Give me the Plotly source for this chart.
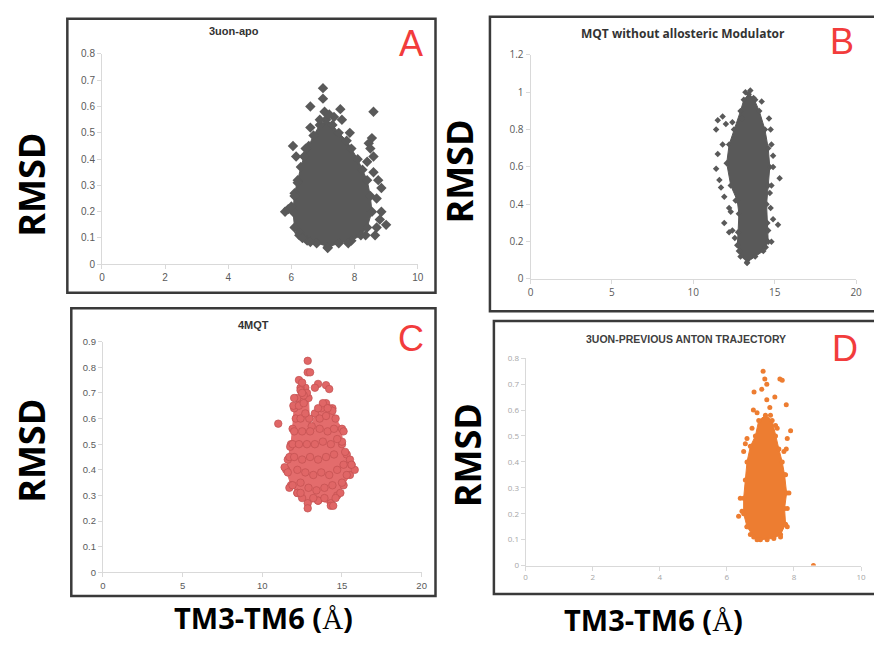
import plotly.graph_objects as go

W, H = 874, 645

# ---------------- DATA ----------------
# Panel A: 3uon-apo  (dense core outline + scattered points)
a_core_x = [7.15, 7.5, 7.9, 8.2, 8.4, 8.55, 8.5, 8.4, 8.25, 8.1, 7.9, 7.75, 7.5, 7.3, 7.1, 6.9, 6.7, 6.55, 6.4, 6.3, 6.2, 6.1, 6.05, 6.1, 6.25, 6.5, 6.8]
a_core_y = [0.065, 0.08, 0.09, 0.11, 0.14, 0.2, 0.26, 0.32, 0.36, 0.4, 0.44, 0.47, 0.5, 0.53, 0.55, 0.53, 0.49, 0.45, 0.41, 0.37, 0.32, 0.27, 0.2, 0.14, 0.11, 0.09, 0.08]
a_pts_x = [5.8, 5.9, 6.0, 6.1, 6.15, 6.05, 6.6, 7.0, 7.0, 7.05, 6.9, 7.55, 7.6, 7.85, 8.6, 8.55, 8.45, 8.5, 8.6, 8.4, 8.6, 8.75, 8.85, 8.7, 8.85, 8.8, 9.0, 8.7, 8.65, 8.35, 6.25, 6.35, 6.6, 7.15, 7.8, 6.45, 6.6, 7.35, 7.2, 6.2]
a_pts_y = [0.2, 0.21, 0.22, 0.26, 0.41, 0.45, 0.6, 0.63, 0.67, 0.58, 0.55, 0.59, 0.55, 0.5, 0.58, 0.48, 0.46, 0.44, 0.41, 0.39, 0.35, 0.32, 0.29, 0.25, 0.2, 0.17, 0.15, 0.14, 0.11, 0.11, 0.12, 0.1, 0.085, 0.062, 0.08, 0.44, 0.52, 0.56, 0.57, 0.31]

# Panel B: MQT without allosteric Modulator
b_core_x = [13.3, 13.8, 14.3, 14.6, 14.55, 14.5, 14.6, 14.7, 14.6, 14.4, 14.05, 13.7, 13.4, 13.1, 12.9, 12.5, 12.2, 12.05, 12.3, 12.7, 12.8, 12.75, 12.7, 12.9]
b_core_y = [0.09, 0.12, 0.15, 0.2, 0.3, 0.4, 0.5, 0.6, 0.7, 0.8, 0.9, 0.97, 0.99, 0.96, 0.9, 0.8, 0.72, 0.62, 0.5, 0.42, 0.35, 0.25, 0.18, 0.12]
b_pts_x = [13.5, 13.2, 13.8, 14.2, 14.65, 14.75, 14.8, 14.9, 14.9, 15.3, 14.8, 14.7, 14.75, 14.9, 15.2, 14.8, 11.4, 11.6, 11.7, 11.5, 11.8, 11.4, 11.5, 11.8, 12.0, 12.4, 11.9, 12.2, 12.3, 11.9, 12.4, 12.2, 12.55, 13.3, 12.8, 14.45, 14.6, 12.6, 13.0]
b_pts_y = [1.01, 1.0, 0.96, 0.95, 0.86, 0.8, 0.72, 0.66, 0.6, 0.54, 0.5, 0.46, 0.38, 0.32, 0.29, 0.2, 0.59, 0.53, 0.49, 0.67, 0.72, 0.8, 0.85, 0.87, 0.83, 0.84, 0.44, 0.38, 0.36, 0.3, 0.26, 0.25, 0.22, 0.085, 0.15, 0.17, 0.26, 0.42, 0.86]

# Panel C: 4MQT
c_core_x = [12.85, 13.5, 14.3, 14.7, 15.1, 15.5, 15.6, 15.3, 15.0, 15.0, 14.6, 14.4, 14.0, 13.7, 13.3, 13.1, 12.95, 12.9, 12.7, 12.4, 12.2, 12.0, 11.9, 11.8, 11.6, 11.5, 11.8, 12.2, 12.5]
c_core_y = [0.27, 0.28, 0.27, 0.3, 0.34, 0.38, 0.42, 0.46, 0.5, 0.56, 0.6, 0.64, 0.66, 0.64, 0.62, 0.57, 0.6, 0.68, 0.72, 0.72, 0.68, 0.64, 0.56, 0.5, 0.44, 0.4, 0.34, 0.31, 0.29]
c_pts_x = [11.0, 12.85, 12.85, 13.0, 12.3, 12.5, 12.4, 13.5, 13.3, 14.0, 14.2, 12.8, 12.6, 13.8, 14.2, 14.4, 15.5, 15.8, 15.6, 14.3, 14.45, 12.85, 11.7, 11.9, 12.2, 12.4, 11.4, 11.6, 11.7, 11.75, 11.9, 12.0, 12.1, 11.95, 12.0, 15.1, 15.0, 15.2, 14.9, 14.6, 13.5, 13.2, 13.9, 15.0, 15.3,
            12.4, 12.9, 13.4, 13.9, 14.4, 12.2, 12.7, 13.2, 13.7, 14.2, 14.7, 15.1, 12.0, 12.5, 13.0, 13.5, 14.0, 14.5, 12.3, 12.8, 13.3, 13.8, 14.3, 14.7, 12.5, 13.0, 13.6, 14.1, 14.5, 12.4, 12.7, 13.6, 14.0, 12.3, 12.6, 13.5, 14.1, 12.5]
c_pts_y = [0.58, 0.825, 0.78, 0.78, 0.75, 0.74, 0.71, 0.735, 0.72, 0.73, 0.715, 0.7, 0.69, 0.66, 0.64, 0.63, 0.44, 0.4, 0.42, 0.26, 0.26, 0.25, 0.33, 0.34, 0.31, 0.31, 0.41, 0.39, 0.45, 0.49, 0.5, 0.55, 0.6, 0.65, 0.68, 0.55, 0.51, 0.47, 0.31, 0.29, 0.28, 0.29, 0.29, 0.35, 0.38,
            0.35, 0.33, 0.32, 0.33, 0.34, 0.4, 0.39, 0.38, 0.39, 0.38, 0.4, 0.42, 0.45, 0.44, 0.45, 0.44, 0.45, 0.46, 0.5, 0.5, 0.5, 0.51, 0.5, 0.52, 0.55, 0.55, 0.56, 0.55, 0.56, 0.6, 0.62, 0.6, 0.61, 0.65, 0.66, 0.64, 0.64, 0.7]

# Panel D: 3UON-PREVIOUS ANTON TRAJECTORY
d_core_x = [7.0, 7.4, 7.6, 7.75, 7.72, 7.78, 7.72, 7.65, 7.55, 7.45, 7.35, 7.15, 6.95, 6.85, 6.7, 6.6, 6.55, 6.5, 6.5, 6.6, 6.8]
d_core_y = [0.1, 0.105, 0.12, 0.16, 0.22, 0.28, 0.35, 0.4, 0.45, 0.5, 0.56, 0.58, 0.56, 0.5, 0.46, 0.4, 0.33, 0.26, 0.2, 0.15, 0.11]
d_pts_x = [7.08, 7.13, 7.19, 7.04, 6.81, 7.43, 7.58, 7.65, 7.77, 6.79, 7.19, 7.28, 7.9, 7.8, 7.77, 7.7, 6.55, 6.5, 6.6, 6.35, 6.45, 6.4, 6.6, 6.7, 6.9, 7.2, 7.6, 7.8, 7.85, 7.8, 7.75, 8.58, 6.9, 7.3, 7.45, 7.5, 6.75]
d_pts_y = [0.75, 0.72, 0.7, 0.68, 0.67, 0.65, 0.72, 0.715, 0.62, 0.6, 0.64, 0.61, 0.52, 0.49, 0.45, 0.44, 0.47, 0.44, 0.49, 0.19, 0.21, 0.26, 0.15, 0.12, 0.1, 0.1, 0.11, 0.15, 0.28, 0.22, 0.35, 0.0, 0.59, 0.58, 0.54, 0.53, 0.53]

titles = ["3uon-apo", "MQT without allosteric Modulator", "4MQT", "3UON-PREVIOUS ANTON TRAJECTORY"]
letters = ["A", "B", "C", "D"]
x_ranges = [[0, 10], [0, 20], [0, 20], [0, 10]]
y_ranges = [[0, 0.8], [0, 1.2], [0, 0.9], [0, 0.8]]
x_dticks = [2, 5, 5, 2]
y_dticks = [0.1, 0.2, 0.1, 0.1]
y_label = "RMSD"
x_label = "TM3-TM6 ("

# ---------------- LAYOUT HELPERS ----------------
def px(x):
    return x / W

def py(y):
    return 1 - y / H

# plot-area boxes in pixels: (left, right, bottom, top)
boxes = [(100, 419, 263, 48), (533, 862, 278, 49), (101, 423, 578, 342), (528, 867, 571, 359)]
frames = [(65, 12, 437, 292), (492, 10, 885, 311), (69, 308, 437, 602), (496, 321, 885, 600)]
title_pos = [(233, 25), (687, 27), (253, 325), (690, 339)]
letter_pos = [(412, 37), (848, 35), (412, 339), (851, 349)]
tick_fonts = [
    dict(family="Liberation Sans", size=10, color="#5a5a5a"),
    dict(family="Open Sans", size=10, color="#5a5a5a"),
    dict(family="Liberation Sans", size=9.5, color="#5a5a5a"),
    dict(family="Open Sans", size=8, color="#a6a6a6"),
]
title_fonts = [
    dict(family="Liberation Sans", size=11, color="#333333"),
    dict(family="Open Sans", size=12, color="#333333"),
    dict(family="Liberation Sans", size=11, color="#333333"),
    dict(family="Liberation Sans", size=10.5, color="#404040"),
]

fig = go.Figure()

gray = "#595959"
salmon = "#e06666"
orange = "#ed7d31"

cores = [(a_core_x, a_core_y), (b_core_x, b_core_y), (c_core_x, c_core_y), (d_core_x, d_core_y)]
pts = [(a_pts_x, a_pts_y), (b_pts_x, b_pts_y), (c_pts_x, c_pts_y), (d_pts_x, d_pts_y)]
styles = [
    dict(color=gray, fill=gray, symbol="diamond", size=8, line=dict(width=0)),
    dict(color=gray, fill=gray, symbol="diamond", size=5, line=dict(width=0)),
    dict(color=salmon, fill="#e36c6c", symbol="circle", size=7.5, line=dict(width=0.7, color="#c25050")),
    dict(color=orange, fill=orange, symbol="circle", size=5, line=dict(width=0)),
]

for i in range(4):
    xa = "x" if i == 0 else f"x{i+1}"
    ya = "y" if i == 0 else f"y{i+1}"
    st = styles[i]
    cx, cy = cores[i]
    fig.add_trace(go.Scatter(
        x=cx, y=cy, xaxis=xa, yaxis=ya, mode="lines+markers", fill="toself",
        fillcolor=st["fill"], line=dict(color=st["fill"], width=1),
        marker=dict(color=st["color"], symbol=st["symbol"], size=st["size"], line=st["line"]),
        showlegend=False, hoverinfo="skip"))
    qx, qy = pts[i]
    fig.add_trace(go.Scatter(
        x=qx, y=qy, xaxis=xa, yaxis=ya, mode="markers",
        marker=dict(color=st["color"], symbol=st["symbol"], size=st["size"], line=st["line"]),
        showlegend=False))

layout = dict(width=W, height=H, margin=dict(l=0, r=0, t=0, b=0),
              paper_bgcolor="white", plot_bgcolor="white", showlegend=False)

for i in range(4):
    l, r, b, t = boxes[i]
    xk = "xaxis" if i == 0 else f"xaxis{i+1}"
    yk = "yaxis" if i == 0 else f"yaxis{i+1}"
    xa = "x" if i == 0 else f"x{i+1}"
    ya = "y" if i == 0 else f"y{i+1}"
    common = dict(showline=True, linecolor="#d9d9d9", linewidth=1, ticks="outside",
                  ticklen=4, tickcolor="#d9d9d9", showgrid=False, zeroline=False,
                  tickfont=tick_fonts[i], fixedrange=True)
    layout[xk] = dict(domain=[px(l), px(r)], range=x_ranges[i], dtick=x_dticks[i],
                      tick0=0, anchor=ya, **common)
    layout[yk] = dict(domain=[py(b), py(t)], range=y_ranges[i], dtick=y_dticks[i],
                      tick0=0, anchor=xa, **common)

fig.update_layout(**layout)

shapes = []
for (x0, y0, x1, y1) in frames:
    shapes.append(dict(type="rect", xref="paper", yref="paper",
                       x0=px(x0), x1=px(x1), y0=py(y1), y1=py(y0),
                       line=dict(color="#3a3a3a", width=2.5)))
fig.update_layout(shapes=shapes)

ann = []
for i in range(4):
    tx, ty = title_pos[i]
    ann.append(dict(text=f"<b>{titles[i]}</b>", x=px(tx), y=py(ty), xref="paper", yref="paper",
                    showarrow=False, xanchor="center", yanchor="middle", font=title_fonts[i]))
    lx, ly = letter_pos[i]
    ann.append(dict(text=letters[i], x=px(lx), y=py(ly), xref="paper", yref="paper",
                    showarrow=False, xanchor="center", yanchor="middle",
                    font=dict(family="Liberation Sans", size=36, color="#f23c3c")))

for (rx, ry) in [(28, 182), (28, 454), (461, 168), (469, 458)]:
    ann.append(dict(text=f"<b>{y_label}</b>", x=px(rx), y=py(ry), xref="paper", yref="paper",
                    showarrow=False, xanchor="center", yanchor="middle", textangle=-90,
                    font=dict(family="Open Sans", size=36, color="black")))

for (lx, ly) in [(263, 624), (657, 626)]:
    ann.append(dict(text=f"<b>{x_label}</b><span style='font-family:Liberation Serif'>Å</span><b>)</b>",
                    x=px(lx), y=py(ly), xref="paper", yref="paper",
                    showarrow=False, xanchor="center", yanchor="middle",
                    font=dict(family="Open Sans", size=29, color="black")))

fig.update_layout(annotations=ann)

fig.write_html("out.html", config={"displayModeBar": False})

# remove the default page margin so the figure sits at the window's top-left corner
with open("out.html", "r", encoding="utf-8") as f:
    html = f.read()
html = html.replace("<body>", "<body style=\"margin:0;overflow:hidden\">", 1)
with open("out.html", "w", encoding="utf-8") as f:
    f.write(html)
